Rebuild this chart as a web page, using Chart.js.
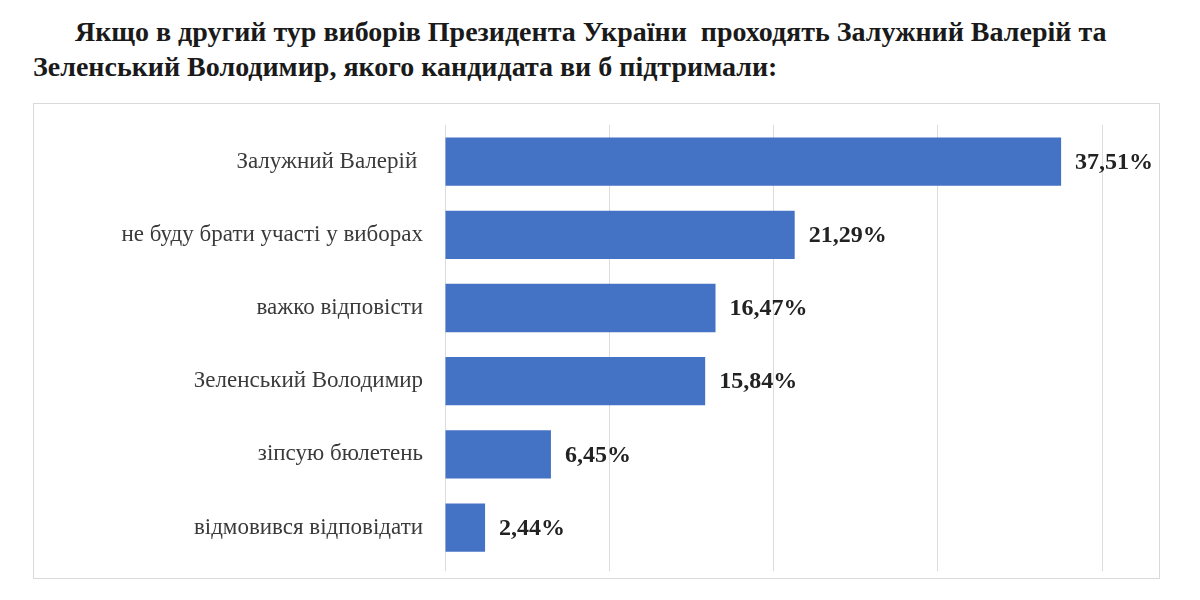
<!DOCTYPE html>
<html>
<head>
<meta charset="utf-8">
<script src="https://cdn.jsdelivr.net/npm/chart.js@4"></script>
<style>
  html, body { margin: 0; padding: 0; background: #ffffff; }
  #page { position: relative; width: 1200px; height: 600px; overflow: hidden; }
  #title {
    position: absolute; left: 33px; top: 14px; width: 1160px;
    font-family: "Liberation Serif", "Times New Roman", serif;
    font-weight: bold; font-size: 28px; line-height: 35px; color: #1a1a1a;
    white-space: pre;
  }
  #title .first { padding-left: 42px; }
  #frame {
    position: absolute; left: 33px; top: 103px; width: 1127px; height: 476px;
    border: 1px solid #d9d9d9; box-sizing: border-box;
  }
  #chart { position: absolute; left: 0; top: 0; }
</style>
</head>
<body>
<div id="page">
  <div id="title"><span class="first">Якщо в другий тур виборів Президента України  проходять Залужний Валерій та</span>
Зеленський Володимир, якого кандидата ви б підтримали:</div>
  <div id="frame"></div>
  <canvas id="chart" width="1200" height="600"></canvas>
</div>
<script>
const categories = [
  'Залужний Валерій ',
  'не буду брати участі у виборах',
  'важко відповісти',
  'Зеленський Володимир',
  'зіпсую бюлетень',
  'відмовився відповідати'
];
const shares = [37.51, 21.29, 16.47, 15.84, 6.45, 2.44];
const xTicks = [0, 10, 20, 30, 40];

const valueLabels = {
  id: 'valueLabels',
  afterDatasetsDraw(chart) {
    const ctx = chart.ctx;
    const meta = chart.getDatasetMeta(0);
    ctx.save();
    ctx.font = 'bold 24px "Liberation Serif", serif';
    ctx.fillStyle = '#222222';
    ctx.textAlign = 'left';
    ctx.textBaseline = 'middle';
    meta.data.forEach((bar, i) => {
      const txt = shares[i].toFixed(2).replace('.', ',') + '%';
      ctx.fillText(txt, bar.x + 14, bar.y + 1);
    });
    ctx.restore();
  }
};

new Chart(document.getElementById('chart').getContext('2d'), {
  type: 'bar',
  data: {
    labels: categories,
    datasets: [{
      data: shares,
      backgroundColor: '#4472c4',
      borderWidth: 0,
      categoryPercentage: 1,
      barPercentage: 0.66
    }]
  },
  options: {
    indexAxis: 'y',
    responsive: false,
    animation: false,
    layout: { padding: { left: 40, right: 98, top: 125, bottom: 23 } },
    plugins: { legend: { display: false }, tooltip: { enabled: false } },
    scales: {
      x: {
        min: 0,
        max: 40,
        afterBuildTicks(scale) { scale.ticks = xTicks.map(v => ({ value: v })); },
        ticks: { display: false },
        grid: { color: '#dcdcdc', lineWidth: 1, drawTicks: true, tickLength: 7 },
        border: { display: false }
      },
      y: {
        afterFit(scale) { scale.width = 405; },
        ticks: {
          padding: 22,
          color: '#3a3a3a',
          font: { family: '"Liberation Serif", serif', size: 23 }
        },
        grid: { display: false, drawTicks: false },
        border: { display: false }
      }
    }
  },
  plugins: [valueLabels]
});
</script>
</body>
</html>
